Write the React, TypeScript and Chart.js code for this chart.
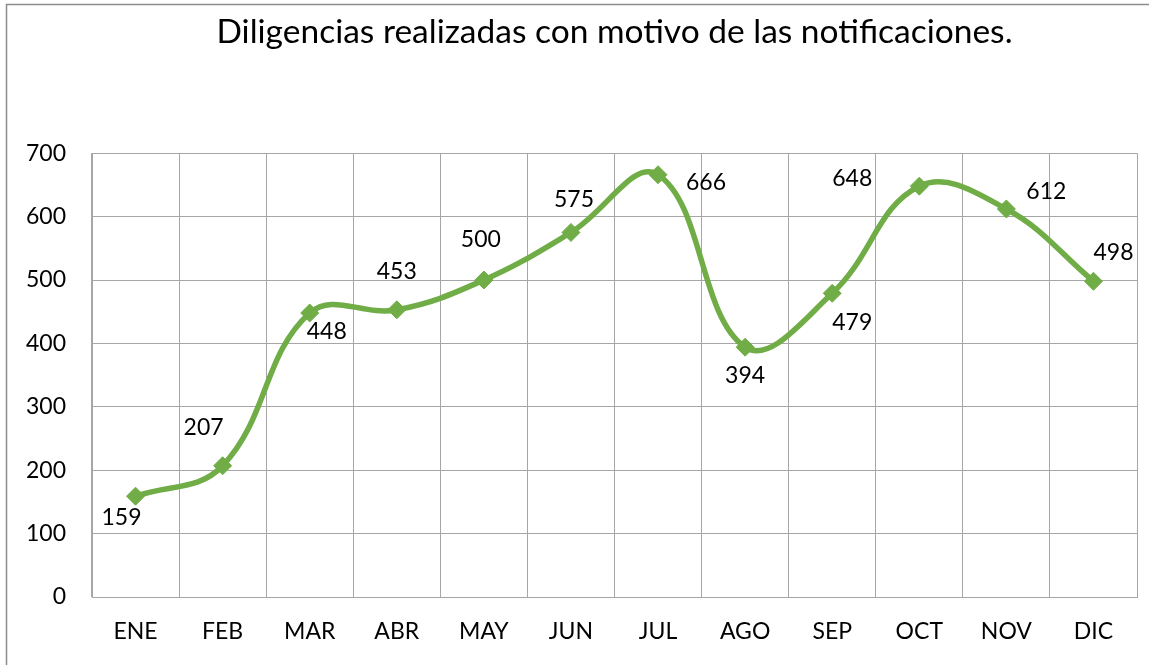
import React, { useEffect, useRef } from "react";
import { Chart, registerables } from "chart.js";

Chart.register(...registerables);

const TITLE = "Diligencias realizadas con motivo de las notificaciones.";
const months = ["ENE", "FEB", "MAR", "ABR", "MAY", "JUN", "JUL", "AGO", "SEP", "OCT", "NOV", "DIC"];
const diligencias = [159, 207, 448, 453, 500, 575, 666, 394, 479, 648, 612, 498];
const yTicks = [0, 100, 200, 300, 400, 500, 600, 700];

// label placement (style): offset of label centre from its point, in px
const labelOffsets: [number, number][] = [
  [-14, 21], [-19, -38], [17, 19], [0, -38], [-3, -40], [3, -33],
  [48, 8], [0, 28], [20, 29], [-67, -8], [40, -17], [20, -29],
];

const GREEN = "#70AD47";
const GRID = "#A6A6A6";
const FONT = "Lato, 'Open Sans', sans-serif";

const dataLabelsPlugin = {
  id: "dataLabelsCustom",
  afterDatasetsDraw(chart: any) {
    const ctx = chart.ctx;
    const meta = chart.getDatasetMeta(0);
    ctx.save();
    ctx.font = `23px ${FONT}`;
    ctx.fillStyle = "#000";
    ctx.textAlign = "center";
    ctx.textBaseline = "middle";
    meta.data.forEach((pt: any, i: number) => {
      const [dx, dy] = labelOffsets[i];
      ctx.fillText(String(diligencias[i]), pt.x + dx, pt.y + dy);
    });
    ctx.restore();
  },
};

const frameBorderPlugin = {
  id: "frameBorder",
  afterDraw(chart: any) {
    const ctx = chart.ctx;
    ctx.save();
    ctx.strokeStyle = "#8C8C8C";
    ctx.lineWidth = 1.5;
    ctx.beginPath();
    ctx.moveTo(6.5, chart.height);
    ctx.lineTo(6.5, 4.5);
    ctx.lineTo(chart.width, 4.5);
    ctx.stroke();
    ctx.restore();
  },
};

export default function App() {
  const canvasRef = useRef<HTMLCanvasElement | null>(null);

  useEffect(() => {
    if (!canvasRef.current) return;
    const chart = new Chart(canvasRef.current, {
      type: "line",
      data: {
        labels: months,
        datasets: [
          {
            label: "Diligencias",
            data: diligencias,
            borderColor: GREEN,
            backgroundColor: GREEN,
            borderWidth: 5.5,
            tension: 0.4,
            pointStyle: "rectRot",
            pointRadius: 9,
            pointBorderWidth: 1,
            pointBackgroundColor: GREEN,
            pointBorderColor: GREEN,
            fill: false,
          },
        ],
      },
      options: {
        responsive: false,
        animation: false,
        layout: { padding: { left: 0, right: 12, top: 0, bottom: 0 } },
        plugins: {
          legend: { display: false },
          tooltip: { enabled: false },
          title: {
            display: true,
            text: TITLE,
            fullSize: false,
            align: "center",
            color: "#000",
            font: { family: FONT, size: 33.5, weight: "normal" },
            padding: { top: 12, bottom: 101 },
          },
        },
        scales: {
          x: {
            offset: true,
            grid: { display: true, offset: true, color: GRID, lineWidth: 1, drawTicks: false },
            border: { display: true, color: GRID },
            ticks: { color: "#000", font: { family: FONT, size: 23 }, padding: 21, maxRotation: 0 },
            afterFit(scale: any) {
              scale.height = 68;
            },
          },
          y: {
            min: 0,
            max: 700,
            afterBuildTicks(scale: any) {
              scale.ticks = yTicks.map((v) => ({ value: v }));
            },
            grid: { color: GRID, lineWidth: 1, drawTicks: false },
            border: { display: true, color: GRID },
            ticks: { color: "#000", font: { family: FONT, size: 23 }, padding: 26 },
            afterFit(scale: any) {
              scale.width = 92;
            },
          },
        },
      },
      plugins: [dataLabelsPlugin, frameBorderPlugin],
    });
    return () => chart.destroy();
  }, []);

  return (
    <div style={{ position: "fixed", left: 0, top: 0, width: 1149, height: 665, background: "#fff" }}>
      <canvas ref={canvasRef} width={1149} height={665} />
    </div>
  );
}
